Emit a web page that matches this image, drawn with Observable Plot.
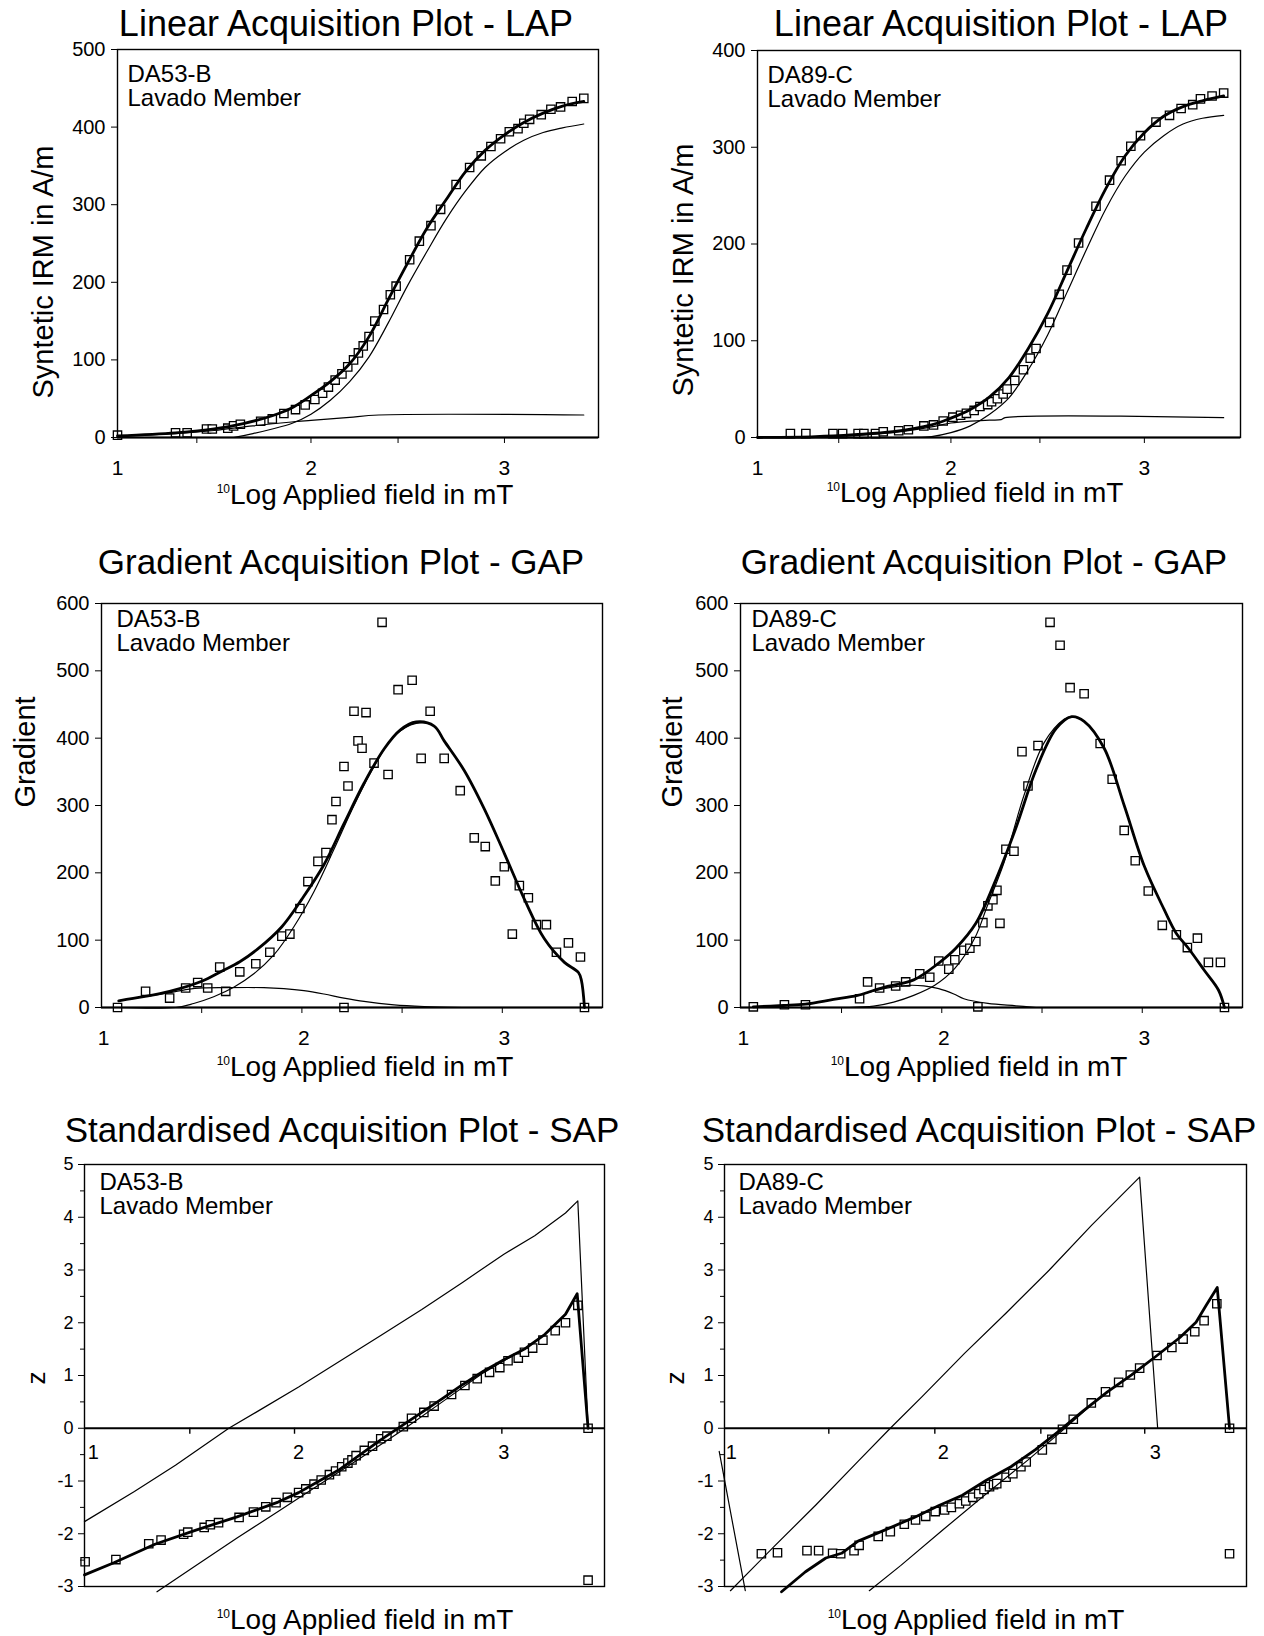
<!DOCTYPE html>
<html><head><meta charset="utf-8">
<script src="https://cdn.jsdelivr.net/npm/d3@7"></script>
<script src="https://cdn.jsdelivr.net/npm/@observablehq/plot@0.6"></script>
<style>
body{margin:0;background:#fff;}
#root{position:relative;width:1264px;height:1636px;font-family:"Liberation Sans",Arial,Helvetica,sans-serif;color:#000;overflow:hidden;}
.t{position:absolute;white-space:nowrap;line-height:1;transform:translate(-50%,-50%);}
.pw{position:absolute;}
.sup{font-size:12px;vertical-align:11px;}
</style></head><body><div id="root"></div><script>
// ---------- Titles / labels ----------
const titleLAP = "Linear Acquisition Plot - LAP";
const titleGAP = "Gradient Acquisition Plot - GAP";
const titleSAP = "Standardised Acquisition Plot - SAP";
const xTitle = "Log Applied field in mT";
const yTitleLAP = "Syntetic IRM in A/m";
const yTitleGAP = "Gradient";
const yTitleSAP = "z";
const sampleA = "DA53-B", sampleB = "DA89-C", member = "Lavado Member";

// ---------- LAP DA53-B ----------
const lapA_px = [1.0,1.30,1.36,1.46,1.49,1.57,1.60,1.635,1.74,1.80,1.86,1.92,1.97,2.02,2.06,2.09,2.125,2.16,2.19,2.22,2.245,2.27,2.30,2.33,2.375,2.41,2.44,2.51,2.56,2.62,2.67,2.75,2.82,2.88,2.93,2.98,3.025,3.07,3.10,3.13,3.19,3.24,3.29,3.35,3.41];
const lapA_py = [3,6,6,11,11,12,15,17,21,24,31,36,42,49,57,65,74,82,91,100,109,118,130,150,165,184,195,229,253,273,294,326,348,363,375,385,394,398,405,410,416,423,426,433,437];
const lapA_fx = [1.0,1.3,1.5,1.65,1.8,1.9,2.0,2.1,2.2,2.3,2.4,2.5,2.6,2.7,2.8,2.9,3.0,3.1,3.2,3.3,3.41];
const lapA_fy = [2,6,11,18,28,38,54,72,95,130,178,225,270,307,343,370,390,406,418,427,433];
const lapA_c1x = [1.6,1.7,1.8,1.9,2.0,2.1,2.2,2.3,2.4,2.5,2.6,2.7,2.8,2.9,3.0,3.1,3.2,3.3,3.41];
const lapA_c1y = [0,5,11,18,30,48,72,104,148,196,240,282,318,348,368,383,393,399,404];
const lapA_c2x = [1.0,1.3,1.5,1.7,1.9,2.0,2.1,2.2,2.35,3.41];
const lapA_c2y = [2,5,9,15,20,22,24,26,29,29];

// ---------- LAP DA89-C ----------
const lapB_px = [1.17,1.25,1.39,1.44,1.52,1.55,1.61,1.65,1.73,1.78,1.86,1.91,1.96,2.01,2.05,2.08,2.12,2.15,2.19,2.21,2.24,2.27,2.29,2.33,2.375,2.41,2.44,2.51,2.56,2.60,2.66,2.75,2.82,2.88,2.93,2.98,3.06,3.13,3.19,3.25,3.29,3.35,3.41];
const lapB_py = [4,4,4,4,4,4,4,6,7,8,12,13,17,21,23,25,28,32,34,37,40,45,50,59,70,82,92,119,148,173,201,239,266,286,301,312,326,333,340,344,350,353,356];
const lapB_fx = [1.0,1.3,1.5,1.7,1.9,2.0,2.1,2.2,2.3,2.4,2.5,2.6,2.7,2.8,2.9,3.0,3.1,3.2,3.3,3.41];
const lapB_fy = [0,1,3,6,13,20,29,42,62,92,128,172,216,257,291,315,332,342,348,353];
const lapB_c1x = [1.0,1.8,1.9,2.0,2.1,2.2,2.3,2.4,2.5,2.6,2.7,2.8,2.9,3.0,3.1,3.2,3.3,3.41];
const lapB_c1y = [0,0,1,5,12,24,41,70,106,150,194,236,270,295,312,324,330,333];
const lapB_c2x = [1.0,1.3,1.5,1.7,1.9,2.0,2.1,2.2,2.26,2.28,3.41];
const lapB_c2y = [0,1,2,5,11,15,17,18,18.5,20.5,20.5];

// ---------- GAP DA53-B ----------
const gapA_px = [1.07,1.21,1.33,1.41,1.47,1.52,1.58,1.61,1.68,1.76,1.83,1.89,1.93,1.98,2.02,2.07,2.11,2.14,2.16,2.20,2.22,2.25,2.27,2.29,2.31,2.35,2.39,2.42,2.47,2.54,2.585,2.63,2.70,2.78,2.85,2.905,2.955,3.0,3.04,3.075,3.12,3.16,3.21,3.26,3.32,3.38,2.20,3.40];
const gapA_py = [0,24,14,29,37,29,60,24,53,65,82,106,109,147,187,217,230,279,306,358,329,440,396,385,438,363,572,346,472,486,370,440,370,322,252,239,188,209,109,181,163,123,123,82,96,75,0,0];
const gapA_fx = [1.076,1.2,1.33,1.49,1.59,1.68,1.77,1.89,1.99,2.10,2.20,2.30,2.40,2.48,2.56,2.65,2.7,2.8,2.9,3.0,3.1,3.2,3.3,3.37,3.385,3.40];
const gapA_fy = [10,16,24,39,54,68,87,120,161,212,273,333,384,412,424,418,396,352,295,229,161,102,67,52,40,0];
const gapA_c1x = [1.07,1.36,1.45,1.55,1.65,1.75,1.85,1.95,2.05,2.15,2.25,2.35,2.45,2.56,2.65,2.7,2.8,2.9,3.0,3.1,3.2,3.3,3.37,3.385,3.40];
const gapA_c1y = [0,0,6,16,30,50,78,120,172,235,300,358,403,422,418,396,352,295,229,161,102,67,52,40,0];
const gapA_c2x = [1.076,1.2,1.33,1.42,1.5,1.6,1.8,1.9,2.0,2.1,2.2,2.3,2.45,2.6,2.79];
const gapA_c2y = [10,16,22,27,29,29.5,29.5,28,25,20,14,9,4,1.5,0];

// ---------- GAP DA89-C ----------
const gapB_px = [1.05,1.205,1.31,1.58,1.62,1.68,1.76,1.81,1.88,1.93,1.975,2.025,2.055,2.10,2.13,2.16,2.195,2.22,2.245,2.265,2.28,2.31,2.35,2.39,2.42,2.47,2.53,2.58,2.63,2.70,2.78,2.84,2.90,2.955,3.02,3.09,3.16,3.215,3.265,3.32,3.38,2.17,3.40];
const gapB_py = [1,4,4,13,38,29,32,38,50,45,69,57,71,85,88,98,126,151,160,174,125,235,232,380,329,389,572,538,475,466,392,339,263,218,173,122,108,89,103,67,67,1,0];
const gapB_fx = [1.05,1.2,1.31,1.45,1.57,1.7,1.85,1.975,2.06,2.16,2.26,2.36,2.46,2.56,2.638,2.7,2.8,2.9,3.0,3.1,3.16,3.22,3.3,3.37,3.40];
const gapB_fy = [1,3,5,12,18,30,41,66,88,125,190,267,353,414,432,425,385,300,210,145,110,88,55,26,0];
const gapB_c1x = [1.53,1.65,1.75,1.85,1.955,2.055,2.156,2.216,2.3,2.4,2.5,2.6,2.638,2.7,2.8,2.9,3.0,3.1,3.16,3.22,3.3,3.37,3.40];
const gapB_c1y = [0,2,8,18,33,58,104,150,215,315,393,428,432,425,385,300,210,145,110,88,55,26,0];
const gapB_c2x = [1.05,1.2,1.31,1.45,1.57,1.7,1.83,1.9,1.975,2.05,2.10,2.22,2.36,2.46];
const gapB_c2y = [1,3,5,12,18,28,33,32,28,20,13,6,2.5,0];

// ---------- SAP DA53-B ----------
const sapA_px = [0.96,1.11,1.27,1.33,1.44,1.46,1.54,1.57,1.61,1.71,1.78,1.84,1.89,1.945,2.0,2.035,2.075,2.11,2.15,2.18,2.21,2.24,2.26,2.28,2.32,2.36,2.40,2.43,2.51,2.55,2.61,2.66,2.745,2.81,2.87,2.93,2.98,3.02,3.07,3.10,3.14,3.19,3.25,3.30,3.36,3.41,3.41];
const sapA_py = [-2.53,-2.49,-2.19,-2.12,-2.01,-1.97,-1.88,-1.83,-1.79,-1.69,-1.59,-1.49,-1.41,-1.31,-1.22,-1.15,-1.06,-0.98,-0.88,-0.81,-0.73,-0.66,-0.60,-0.52,-0.42,-0.34,-0.20,-0.15,0.03,0.19,0.30,0.42,0.64,0.81,0.94,1.06,1.15,1.28,1.33,1.44,1.52,1.67,1.85,2.0,2.33,0,-2.88];
const sapA_fx = [0.957,1.1,1.3,1.5,1.7,1.9,2.0,2.1,2.2,2.3,2.4,2.5,2.6,2.7,2.8,2.9,3.0,3.1,3.2,3.3,3.357,3.41];
const sapA_fy = [-2.78,-2.55,-2.2,-1.93,-1.68,-1.40,-1.22,-1.0,-0.78,-0.50,-0.22,0.04,0.30,0.56,0.83,1.08,1.30,1.50,1.78,2.16,2.55,0];
const sapA_c2x = [0.957,1.2,1.4,1.66,1.8,2.0,2.2,2.4,2.6,2.8,3.0,3.15,3.3,3.36,3.41];
const sapA_c2y = [-1.77,-1.2,-0.7,0,0.32,0.78,1.27,1.76,2.25,2.77,3.3,3.65,4.08,4.31,0];
const sapA_c1x = [1.31,1.5,1.7,1.9,2.1,2.3,2.5,2.7,2.9,3.0,3.1,3.2,3.3,3.357];
const sapA_c1y = [-3.1,-2.6,-2.08,-1.58,-1.07,-0.57,-0.05,0.5,1.05,1.28,1.5,1.78,2.16,2.55];

// ---------- SAP DA89-C ----------
const sapB_px = [1.142,1.218,1.357,1.412,1.478,1.516,1.579,1.603,1.693,1.75,1.816,1.869,1.917,1.962,2.006,2.038,2.076,2.106,2.139,2.167,2.192,2.218,2.237,2.252,2.296,2.328,2.366,2.391,2.467,2.512,2.562,2.613,2.698,2.765,2.827,2.882,2.926,3.008,3.078,3.131,3.186,3.23,3.29,3.35,3.35];
const sapB_py = [-2.38,-2.36,-2.32,-2.32,-2.37,-2.38,-2.32,-2.22,-2.05,-1.96,-1.82,-1.74,-1.67,-1.58,-1.55,-1.50,-1.43,-1.38,-1.31,-1.24,-1.16,-1.11,-1.07,-1.05,-0.93,-0.86,-0.73,-0.64,-0.41,-0.21,-0.02,0.17,0.48,0.69,0.87,1.01,1.14,1.38,1.53,1.69,1.83,2.04,2.36,0,-2.38];
const sapB_fx = [1.237,1.35,1.446,1.52,1.598,1.712,1.863,1.977,2.09,2.205,2.319,2.433,2.547,2.66,2.774,2.888,3.002,3.116,3.192,3.24,3.292,3.35];
const sapB_fy = [-3.1,-2.72,-2.46,-2.37,-2.14,-1.95,-1.69,-1.47,-1.27,-0.98,-0.73,-0.41,-0.05,0.33,0.69,1.01,1.36,1.72,2.01,2.33,2.67,0];
const sapB_c2x = [0.996,1.2,1.4,1.6,1.75,1.9,2.1,2.3,2.5,2.7,2.926,3.011];
const sapB_c2y = [-3.08,-2.25,-1.45,-0.62,0,0.6,1.42,2.2,3.0,3.85,4.76,0];
const sapB_c1x = [1.651,1.8,2.0,2.2,2.4,2.56,2.7,2.774,2.888];
const sapB_c1y = [-3.08,-2.6,-1.92,-1.25,-0.6,-0.05,0.45,0.69,1.01];
const sapB_c3x = [0.943,1.066];
const sapB_c3y = [-0.44,-3.08];

// ---------- Ticks ----------
const xLabels = [1, 2, 3];
const yTicksLapA = [0,100,200,300,400,500];
const yTicksLapB = [0,100,200,300,400];
const yTicksGap = [0,100,200,300,400,500,600];
const yTicksSap = [-3,-2,-1,0,1,2,3,4,5];
const yMinorSap = [-2.5,-1.5,-0.5,0.5,1.5,2.5,3.5,4.5];
const xTicksLapA = [1.41,2,2.45,3];
const xTicksLapB = [1.42,2,2.46,3];
const xTicksGap = [1.49,1.99,2.49,2.99];
const xTicksSapA = [1.47,1.98,2.48,2.99];
const xTicksSapB = [1.46,1.96,2.46,2.95];

// ---------- drawing ----------
const FONT = '"Liberation Sans", Arial, Helvetica, sans-serif';
const root = document.getElementById("root");
const pairs = (xs, ys) => xs.map((x, i) => [x, ys[i]]);

function panel(p) {
  const ml = 80, mr = 14, mt = 12, mb = p.sap ? 18 : 48;
  const [L, T, R, B] = p.frame;
  const width = R - L + ml + mr, height = B - T + mt + mb;
  const curve = p.sap ? "linear" : "catmull-rom";
  const marks = [
    Plot.dot(pairs(p.px, p.py), {symbol: "square", r: 4.7, stroke: "#000", fill: "#fff", strokeWidth: 1.3}),
    ...p.thin.map(([xs, ys]) => Plot.line(pairs(xs, ys), {stroke: "#000", strokeWidth: 1.2, curve})),
    Plot.line(pairs(p.fx, p.fy), {stroke: "#000", strokeWidth: 2.8, curve, strokeLinejoin: "round"}),
    Plot.frame({stroke: "#000", strokeWidth: 1.4}),
    Plot.ruleY([0], {stroke: "#000", strokeWidth: 2.2}),
    Plot.axisY({ticks: p.yTicks, tickSize: 6, tickPadding: p.sap ? 5 : 6, fontSize: p.sap ? 18 : 20, tickFormat: d => String(d), label: null}),
    Plot.text([p.sample + "\n" + member], {frameAnchor: "top-left", dx: p.ann[0], dy: p.ann[1], lineAnchor: "top", textAnchor: "start", fontSize: 24, lineHeight: 1.0, text: d => d})
  ];
  if (p.sap) {
    marks.push(Plot.axisY({ticks: yMinorSap, tickSize: 4, tickFormat: () => "", label: null}));
    marks.push(Plot.ruleX(p.xTicks, {x: d => d, y1: 0, y2: 0, insetBottom: -6, stroke: "#000", strokeWidth: 1.4}));
    marks.push(Plot.text(xLabels, {x: d => d, y: 0, text: d => String(d), dy: 24, fontSize: 20}));
  } else {
    marks.push(Plot.axisX({ticks: xLabels, tickSize: 0, tickPadding: 23, fontSize: 21, tickFormat: d => String(d), label: null}));
    marks.push(Plot.axisX({ticks: p.xTicks, tickSize: 6, tickFormat: () => "", label: null}));
  }
  const svg = Plot.plot({
    width, height, marginLeft: ml, marginRight: mr, marginTop: mt, marginBottom: mb,
    x: {domain: p.xDomain, axis: null},
    y: {domain: p.yDomain, axis: null},
    style: {fontFamily: FONT, background: "transparent", overflow: "visible", color: "#000", maxWidth: "none"},
    marks
  });
  const wrap = document.createElement("div");
  wrap.className = "pw";
  wrap.style.left = (L - ml) + "px";
  wrap.style.top = (T - mt) + "px";
  wrap.appendChild(svg);
  root.appendChild(wrap);
}

function addText(html, x, y, size, rotate) {
  const d = document.createElement("div");
  d.className = "t";
  d.innerHTML = html;
  d.style.left = x + "px";
  d.style.top = y + "px";
  d.style.fontSize = size + "px";
  if (rotate) d.style.transform = "translate(-50%,-50%) rotate(-90deg)";
  root.appendChild(d);
}

panel({frame: [117, 49, 598, 437], xDomain: [1, 3.486], yDomain: [0, 500], yTicks: yTicksLapA, xTicks: xTicksLapA,
  px: lapA_px, py: lapA_py, fx: lapA_fx, fy: lapA_fy, thin: [[lapA_c1x, lapA_c1y], [lapA_c2x, lapA_c2y]], sample: sampleA, ann: [10, 15]});
panel({frame: [757, 50, 1240, 437], xDomain: [1, 3.497], yDomain: [0, 400], yTicks: yTicksLapB, xTicks: xTicksLapB,
  px: lapB_px, py: lapB_py, fx: lapB_fx, fy: lapB_fy, thin: [[lapB_c1x, lapB_c1y], [lapB_c2x, lapB_c2y]], sample: sampleB, ann: [10, 15]});
panel({frame: [101, 603, 602, 1007], xDomain: [0.99, 3.49], yDomain: [0, 600], yTicks: yTicksGap, xTicks: xTicksGap,
  px: gapA_px, py: gapA_py, fx: gapA_fx, fy: gapA_fy, thin: [[gapA_c1x, gapA_c1y], [gapA_c2x, gapA_c2y]], sample: sampleA, ann: [15, 6]});
panel({frame: [740, 603, 1242, 1007], xDomain: [0.986, 3.49], yDomain: [0, 600], yTicks: yTicksGap, xTicks: xTicksGap,
  px: gapB_px, py: gapB_py, fx: gapB_fx, fy: gapB_fy, thin: [[gapB_c1x, gapB_c1y], [gapB_c2x, gapB_c2y]], sample: sampleB, ann: [11, 6]});
panel({sap: true, frame: [84, 1164, 604, 1586], xDomain: [0.957, 3.49], yDomain: [-3, 5], yTicks: yTicksSap, xTicks: xTicksSapA,
  px: sapA_px, py: sapA_py, fx: sapA_fx, fy: sapA_fy, thin: [[sapA_c2x, sapA_c2y], [sapA_c1x, sapA_c1y]], sample: sampleA, ann: [15, 8]});
panel({sap: true, frame: [724, 1164, 1246, 1586], xDomain: [0.968, 3.43], yDomain: [-3, 5], yTicks: yTicksSap, xTicks: xTicksSapB,
  px: sapB_px, py: sapB_py, fx: sapB_fx, fy: sapB_fy, thin: [[sapB_c2x, sapB_c2y], [sapB_c1x, sapB_c1y], [sapB_c3x, sapB_c3y]], sample: sampleB, ann: [14, 8]});

const xt = '<span class="sup">10</span>' + xTitle;
addText(titleLAP, 346, 24, 36); addText(titleLAP, 1001, 24, 36);
addText(titleGAP, 341, 561, 35); addText(titleGAP, 984, 561, 35);
addText(titleSAP, 342, 1129, 35); addText(titleSAP, 979, 1129, 35);
addText(xt, 365, 495, 28); addText(xt, 975, 493, 28);
addText(xt, 365, 1067, 28); addText(xt, 979, 1067, 28);
addText(xt, 365, 1620, 28); addText(xt, 976, 1620, 28);
addText(yTitleLAP, 43, 272, 29, true); addText(yTitleLAP, 683, 270, 29, true);
addText(yTitleGAP, 25, 752, 29, true); addText(yTitleGAP, 672, 752, 29, true);
addText(yTitleSAP, 36, 1378, 26, true); addText(yTitleSAP, 675, 1378, 26, true);
</script></body></html>
